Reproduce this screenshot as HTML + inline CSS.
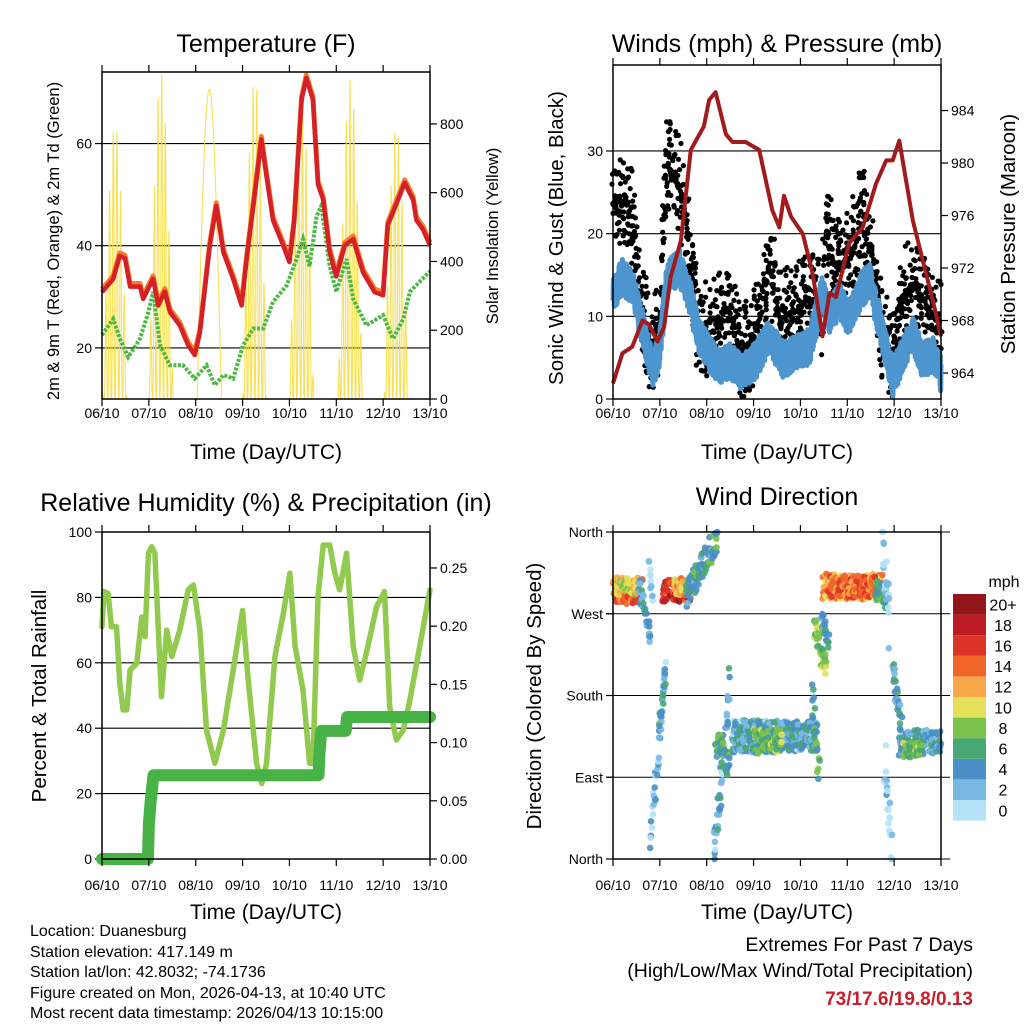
<!DOCTYPE html>
<html><head><meta charset="utf-8"><style>
html,body{margin:0;padding:0;background:#fff}
svg{display:block;font-family:"Liberation Sans",Arial,sans-serif}
</style></head><body>
<svg id="chart" width="1024" height="1024" viewBox="0 0 1024 1024">
<rect x="0" y="0" width="1024" height="1024" fill="#fff"/>
<text x="266" y="52" font-size="25" text-anchor="middle">Temperature (F)</text>
<text x="777" y="52" font-size="25" text-anchor="middle">Winds (mph) &amp; Pressure (mb)</text>
<text x="266" y="511" font-size="25" text-anchor="middle">Relative Humidity (%) &amp; Precipitation (in)</text>
<text x="777" y="505" font-size="25" text-anchor="middle">Wind Direction</text>
<text transform="translate(59,241) rotate(-90)" font-size="16.5" text-anchor="middle">2m &amp; 9m T (Red, Orange) &amp; 2m Td (Green)</text>
<text transform="translate(498,236) rotate(-90)" font-size="16.5" text-anchor="middle">Solar Insolation (Yellow)</text>
<text transform="translate(563,238) rotate(-90)" font-size="20.5" text-anchor="middle">Sonic Wind &amp; Gust (Blue, Black)</text>
<text transform="translate(1015,234) rotate(-90)" font-size="20.5" text-anchor="middle">Station Pressure (Maroon)</text>
<text transform="translate(46,696) rotate(-90)" font-size="20.5" text-anchor="middle">Percent &amp; Total Rainfall</text>
<text transform="translate(541,696) rotate(-90)" font-size="20.5" text-anchor="middle">Direction (Colored By Speed)</text>
<text x="266" y="459" font-size="21" text-anchor="middle">Time (Day/UTC)</text>
<text x="777" y="459" font-size="21" text-anchor="middle">Time (Day/UTC)</text>
<text x="266" y="919" font-size="21" text-anchor="middle">Time (Day/UTC)</text>
<text x="777" y="919" font-size="21" text-anchor="middle">Time (Day/UTC)</text>
<g font-size="16">
<text x="30" y="936">Location: Duanesburg</text>
<text x="30" y="957">Station elevation: 417.149 m</text>
<text x="30" y="977">Station lat/lon: 42.8032; -74.1736</text>
<text x="30" y="998">Figure created on Mon, 2026-04-13, at 10:40 UTC</text>
<text x="30" y="1018">Most recent data timestamp: 2026/04/13 10:15:00</text>
</g>
<text x="973" y="951" font-size="19.5" text-anchor="end">Extremes For Past 7 Days</text>
<text x="973" y="977" font-size="19.5" text-anchor="end">(High/Low/Max Wind/Total Precipitation)</text>
<text x="973" y="1005" font-size="19" font-weight="bold" fill="#c8202a" text-anchor="end">73/17.6/19.8/0.13</text>
<text x="1004" y="587" font-size="16" text-anchor="middle">mph</text>
</svg>
<script>
// ---------- data ----------
const dayLabels = ["06/10","07/10","08/10","09/10","10/10","11/10","12/10","13/10"];
const tempTimes = [0,0.24,0.38,0.49,0.6,0.81,0.88,1.09,1.2,1.34,1.45,1.66,1.84,1.98,2.09,2.3,2.44,2.59,2.8,2.98,3.08,3.3,3.4,3.51,3.65,3.87,4.0,4.1,4.26,4.36,4.5,4.61,4.72,4.86,5.0,5.18,5.36,5.57,5.82,6.0,6.1,6.32,6.46,6.64,6.71,6.85,7.0];
const tempValues = [30.9,33.5,38,37.5,32,32,29.6,33.5,28.3,31,27,24.4,20.5,18.6,23,40,47.8,38.7,33.5,28.3,36.8,53,60.8,53.6,45,40,36.8,44.5,68.6,72.8,68.6,52,49,38.7,34,40,41.3,34.8,30.9,30.3,44,49,52.3,49,45,43.2,40];
const dewTimes = [0,0.24,0.38,0.56,0.81,0.99,1.09,1.24,1.45,1.73,1.98,2.23,2.41,2.59,2.8,3.01,3.23,3.44,3.65,3.94,4.15,4.29,4.43,4.58,4.68,4.86,5.0,5.22,5.36,5.64,6.0,6.21,6.43,6.57,7.0];
const dewValues = [22.5,25.7,21.8,18.2,21.8,27,31,20.5,16.6,16.6,14,16.6,12.7,14.7,14,20.5,23.8,23.8,29,32.2,37.4,41.3,36,45.8,47.8,36,31,37.4,29.6,24.4,26.4,21.8,25.7,31,35];
const solarCenters = [0.28,1.26,2.29,3.26,4.26,5.3,6.28];
const solarPeaks = [800,950,900,930,875,930,790];
const solarCloudy = [1,1,0,1,1,1,1];
const windTimes = [0,0.2,0.41,0.59,0.84,0.98,1.16,1.41,1.62,1.84,2.05,2.26,2.48,2.76,3.05,3.33,3.62,3.9,4.19,4.47,4.62,4.83,5.04,5.26,5.47,5.68,5.97,6.18,6.4,6.61,6.82,7.0];
const windValues = [12.8,14.8,13.6,9.6,3.5,5.5,14.8,16,12.8,7.5,5.5,3.9,4.7,3.1,4.7,7.5,4.7,5.5,6.3,12.8,10,12,9.6,12.8,14.4,9.6,2.3,5.5,7.9,4.7,5.5,3.1];
const gustTimes = [0,0.2,0.41,0.56,0.77,0.98,1.13,1.41,1.62,1.84,2.12,2.48,2.76,3.05,3.33,3.55,3.83,4.19,4.47,4.54,4.76,5.04,5.33,5.54,5.75,5.97,6.18,6.4,6.68,7.0];
const gustValues = [23.7,24.9,21.7,12,6.7,7.5,28.9,25.7,18.4,8,9.6,9.6,5.5,8,16,9.6,10.4,12,10.8,20.8,16,16.8,22.9,16.8,8,3.9,12.8,13.6,12,8];
const presTimes = [0,0.2,0.41,0.63,0.77,0.95,1.09,1.23,1.45,1.66,1.94,2.05,2.19,2.41,2.55,2.83,3.12,3.4,3.55,3.65,3.8,4.05,4.26,4.47,4.62,4.76,5.04,5.33,5.61,5.83,5.97,6.11,6.4,6.61,6.82,7.0];
const presValues = [963.2,965.5,966,968,967.7,966.4,967.5,971.3,974.1,981,982.8,984.8,985.4,982.2,981.6,981.6,981,976.4,975.1,977.5,975.9,974.6,971.6,966.8,970.1,969.8,973.9,975.1,978.4,980.2,980.2,981.7,975.6,972.6,969.6,966.8];
const rhTimes = [0,0.04,0.13,0.2,0.31,0.38,0.45,0.53,0.6,0.74,0.85,0.92,0.99,1.06,1.13,1.2,1.27,1.38,1.49,1.66,1.84,1.95,2.09,2.23,2.41,2.59,2.8,3.0,3.12,3.3,3.41,3.51,3.69,3.87,4.01,4.12,4.29,4.43,4.5,4.61,4.72,4.86,4.97,5.07,5.22,5.36,5.5,5.64,5.86,6.03,6.14,6.28,6.43,6.57,6.78,7.0];
const rhValues = [71,81.8,81.2,71,71,53.7,45.6,45.6,57.8,59.8,74,68,93.5,95.5,93.5,71,49.6,70,61.9,70,82.3,83.8,70,39.4,29.3,39.4,57.8,76,54.7,29.3,23.1,29.3,61.9,75,87.4,65,51.7,29.3,29.3,80.2,96,96,87.4,82.3,93.5,65,54.7,62.9,77.2,81.8,46.6,36.4,39.4,48.6,65,82.3];
const precipTimes = [0,0.98,1.0,1.04,1.1,4.62,4.64,4.68,5.2,5.23,7.0];
const precipValues = [0,0,0.03,0.05,0.072,0.072,0.09,0.11,0.11,0.122,0.122];
// wind-direction clusters
const segStartT = [0.0,0.05,0.55,0.78,0.8,1.0,1.05,1.3,1.55,2.15,2.2,2.55,2.55,3.0,4.25,4.3,4.45,4.47,4.6,5.6,5.75,5.8,5.97,6.1,6.2];
const segEndT   = [0.63,0.55,0.8,0.84,1.12,1.12,1.62,1.6,2.23,2.5,2.5,4.35,4.35,3.6,4.4,4.55,4.6,5.75,5.6,5.82,5.9,5.95,6.15,7.0,6.6];
const segStartDir = [295,300,305,335,20,150,295,300,290,10,130,135,135,130,180,255,265,300,300,300,350,110,210,128,120];
const segEndDir   = [295,300,245,285,205,205,295,300,355,190,100,135,135,130,100,210,240,300,300,285,260,10,150,128,120];
const segSpreadDeg = [14,10,10,8,15,8,12,10,15,25,15,18,16,14,20,15,10,14,12,12,30,25,15,14,8];
const segSpeed = [14,10,4,1,2,5,17,12,5,3,6,3,4,7,6,8,4,12,14,6,1,1,4,4,7];
const speedLabels = ["0","2","4","6","8","10","12","14","16","18","20+"];
const speedColors = ["#b4e2f7","#7ab8e4","#4a8fc6","#48a772","#7bc24b","#e5e05a","#f8a84a","#f16529","#de3327","#be1c24","#92161a"];

// ---------- helpers ----------
const NS = "http://www.w3.org/2000/svg";
const svg = document.getElementById("chart");
function mk(parent, tag, attrs){
  const e = document.createElementNS(NS, tag);
  for (const k in attrs) e.setAttribute(k, attrs[k]);
  parent.appendChild(e);
  return e;
}
function lin(d0,d1,r0,r1){ return v => r0 + (v-d0)*(r1-r0)/(d1-d0); }
function interp(ts, vs, t){
  if (t<=ts[0]) return vs[0];
  for (let i=1;i<ts.length;i++){ if (t<=ts[i]){ const f=(t-ts[i-1])/(ts[i]-ts[i-1]); return vs[i-1]+f*(vs[i]-vs[i-1]); } }
  return vs[vs.length-1];
}
function pts(ts, vs, xs, ys){ return ts.map((t,i)=>xs(t).toFixed(1)+","+ys(vs[i]).toFixed(1)).join(" "); }
// deterministic texture offset in [-1,1]
function pattern(i){ const s=Math.sin(i*12.9898+1.7)*43758.5453; return (s-Math.floor(s))*2-1; }

function panel(name){
  const g = mk(svg, "g", {});
  
  
  return g;
}
function frame(g, x0,y0,x1,y1){
  const r = mk(g,"rect",{x:x0,y:y0,width:x1-x0,height:y1-y0,fill:"none",stroke:"#000","stroke-width":1.5});
  
  
}
function xAxis(g, xs, y0, y1, labelY){
  for (let d=0; d<dayLabels.length; d++){
    const x = xs(d);
    mk(g,"line",{x1:x,x2:x,y1:y1,y2:y1+7,stroke:"#000","stroke-width":1.2});
    mk(g,"line",{x1:x,x2:x,y1:y0,y2:y0-7,stroke:"#000","stroke-width":1.2});
    const t = mk(g,"text",{x:x,y:labelY,"font-size":14,"text-anchor":"middle"});
    t.textContent = dayLabels[d];
    
    
  }
}
function yAxis(g, ticks, labels, ys, x, side, grid, gx0, gx1){
  ticks.forEach((v,i)=>{
    const y = ys(v);
    if (grid) mk(g,"line",{x1:gx0,x2:gx1,y1:y,y2:y,stroke:"#000","stroke-width":1.1});
    const dx = side==="left" ? -7 : 7;
    mk(g,"line",{x1:x,x2:x+dx,y1:y,y2:y,stroke:"#000","stroke-width":1.2});
    const t = mk(g,"text",{x:x+(side==="left"?-10:10),y:y+5,"font-size":14,"text-anchor":side==="left"?"end":"start"});
    t.textContent = labels[i];
    
    
  });
}

// ---------- Panel 1: temperature ----------
(function(){
  const x0=102,x1=430,y0=72,y1=399;
  const g = panel("temperature-panel");
  const xs = lin(0,7,x0,x1), ys = lin(10,74,y1,y0), ysR = lin(0,951,y1,y0);
  yAxis(g,[20,40,60],["20","40","60"],ys,x0,"left",true,x0,x1);
  yAxis(g,[0,200,400,600,800],["0","200","400","600","800"],ysR,x1,"right",false);
  const sg = mk(g,"g",{});
  
  
  const hw = 0.26;
  solarCenters.forEach((c,di)=>{
    const p=[];
    for (let t=c-hw; t<=c+hw+1e-9; t+=0.003){
      let s = solarPeaks[di]*Math.sin(Math.PI*(t-c+hw)/(2*hw));
      if (solarCloudy[di]) s *= Math.pow(Math.abs(Math.sin((t-c)*40+di)),3);
      p.push(xs(Math.max(0,Math.min(7,t))).toFixed(1)+","+ysR(Math.max(0,s)).toFixed(1));
    }
    const l = mk(sg,"polyline",{points:p.join(" "),fill:"none",stroke:"#f7dc3a","stroke-width":1.1,opacity:0.85});
    
    
  });
  const dl = mk(g,"polyline",{points:pts(dewTimes,dewValues,xs,ys),fill:"none",stroke:"#4cb944","stroke-width":4,"stroke-dasharray":"3 1.5"});
  
  
  const ol = mk(g,"polyline",{points:pts(tempTimes,tempValues.map(v=>v+0.6),xs,ys),fill:"none",stroke:"#f47c2a","stroke-width":5,"stroke-linejoin":"round"});
  
  
  const rl = mk(g,"polyline",{points:pts(tempTimes,tempValues,xs,ys),fill:"none",stroke:"#d42026","stroke-width":4.5,"stroke-linejoin":"round"});
  
  
  frame(g,x0,y0,x1,y1);
  xAxis(g,xs,y0,y1,418);
})();

// ---------- Panel 2: winds & pressure ----------
(function(){
  const x0=613,x1=941,y0=65,y1=399;
  const g = panel("winds-panel");
  const xs = lin(0,7,x0,x1), ys = lin(0,40.4,y1,y0), ysR = lin(962.02,987.47,y1,y0);
  yAxis(g,[0,10,20,30],["0","10","20","30"],ys,x0,"left",true,x0,x1);
  yAxis(g,[964,968,972,976,980,984],["964","968","972","976","980","984"],ysR,x1,"right",false);
  const gg = mk(g,"g",{fill:"#000"});
  
  
  let i=0;
  for (let t=0; t<=7; t+=0.005, i++){
    const o = pattern(i);
    const v = Math.max(0.3, interp(gustTimes,gustValues,t) + o*Math.abs(o)*6);
    mk(gg,"circle",{cx:(xs(t)+pattern(i+5000)*1.5).toFixed(1),cy:ys(v).toFixed(1),r:2.6});
  }
  const bp=[]; i=0;
  for (let t=0; t<=7; t+=0.003, i++){
    const v = Math.max(0.3, interp(windTimes,windValues,t) + pattern(i+9000)*2.2);
    bp.push(xs(t).toFixed(1)+","+ys(v).toFixed(1));
  }
  const bl = mk(g,"polyline",{points:bp.join(" "),fill:"none",stroke:"#4d95cf","stroke-width":5,"stroke-linejoin":"round"});
  
  
  const pl = mk(g,"polyline",{points:pts(presTimes,presValues,xs,ysR),fill:"none",stroke:"#a01b1e","stroke-width":4,"stroke-linejoin":"round"});
  
  
  frame(g,x0,y0,x1,y1);
  xAxis(g,xs,y0,y1,418);
})();

// ---------- Panel 3: humidity & precip ----------
(function(){
  const x0=102,x1=430,y0=532,y1=859;
  const g = panel("humidity-panel");
  const xs = lin(0,7,x0,x1), ys = lin(0,100,y1,y0), ysR = lin(0,0.2809,y1,y0);
  yAxis(g,[0,20,40,60,80,100],["0","20","40","60","80","100"],ys,x0,"left",true,x0,x1);
  yAxis(g,[0,0.05,0.1,0.15,0.2,0.25],["0.00","0.05","0.10","0.15","0.20","0.25"],ysR,x1,"right",false);
  const rl = mk(g,"polyline",{points:pts(rhTimes,rhValues,xs,ys),fill:"none",stroke:"#92c94f","stroke-width":5.5,"stroke-linejoin":"round","stroke-linecap":"round"});
  
  
  const pl = mk(g,"polyline",{points:pts(precipTimes,precipValues,xs,ysR),fill:"none",stroke:"#47b347","stroke-width":12,"stroke-linejoin":"round","stroke-linecap":"round"});
  
  
  frame(g,x0,y0,x1,y1);
  xAxis(g,xs,y0,y1,890);
})();

// ---------- Panel 4: wind direction ----------
(function(){
  const x0=613,x1=941,y0=532,y1=859;
  const g = panel("wind-direction-panel");
  const xs = lin(0,7,x0,x1), ys = lin(0,360,y1,y0);
  yAxis(g,[0,90,180,270,360],["North","East","South","West","North"],ys,x0,"left",true,606,950);
  const dg = mk(g,"g",{});
  
  
  let k=0;
  segStartT.forEach((t0,s)=>{
    const t1=segEndT[s], n=Math.round((t1-t0)*110)+4;
    for (let j=0;j<n;j++,k++){
      const f=j/(n-1), t=t0+f*(t1-t0) + pattern(k+3000)*0.02;
      let d = segStartDir[s]+f*(segEndDir[s]-segStartDir[s]) + pattern(k)*segSpreadDeg[s];
      d = Math.max(0,Math.min(360,d));
      const sp = segSpeed[s] + pattern(k+7000)*2.5;
      const bin = Math.max(0,Math.min(10,Math.round(sp/2)));
      mk(dg,"circle",{cx:xs(Math.max(0,Math.min(7,t))).toFixed(1),cy:ys(d).toFixed(1),r:3.3,fill:speedColors[bin],opacity:0.9});
    }
  });
  frame(g,x0,y0,x1,y1);
  xAxis(g,xs,y0,y1,890);
  const cb = mk(svg,"g",{});
  
  
  const top=594, h=20.6;
  speedLabels.forEach((lab,i)=>{
    const y = top + (10-i)*h;
    mk(cb,"rect",{x:953,y:y,width:33,height:h,fill:speedColors[i]});
    const t = mk(cb,"text",{x:1003,y:y+h/2+6,"font-size":16,"text-anchor":"middle"});
    t.textContent = lab;
    
    
  });
})();
</script>
</body></html>
